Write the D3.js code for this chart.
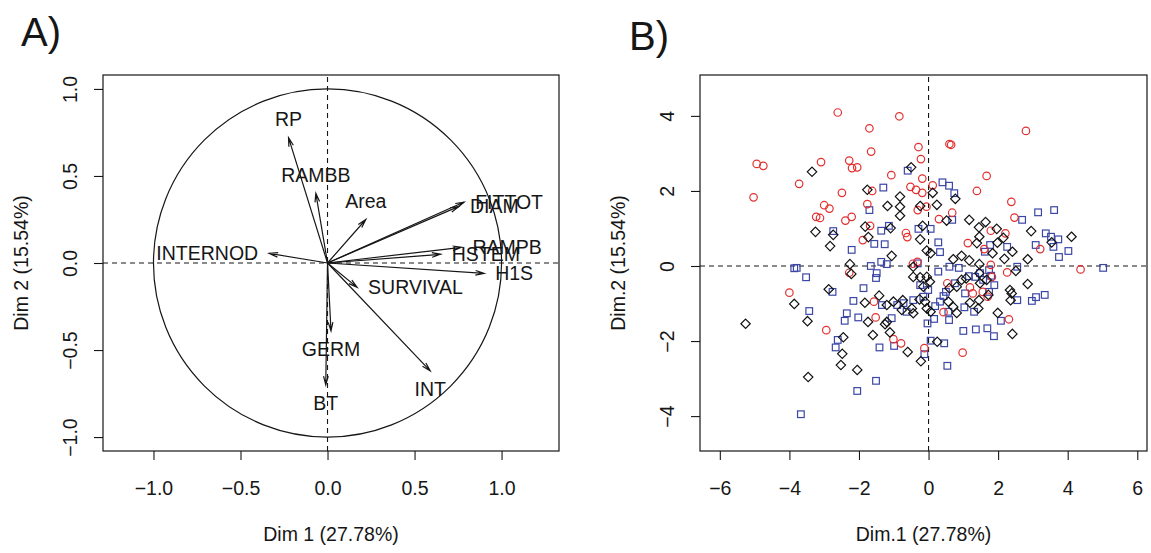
<!DOCTYPE html>
<html>
<head>
<meta charset="utf-8">
<script src="https://cdn.jsdelivr.net/npm/d3@7"></script>
<style>
  body { margin: 0; background: #fff; }
  svg text { font-family: "Liberation Sans", Arial, Helvetica, sans-serif; fill: #161616; }
</style>
</head>
<body>
<svg id="fig" width="1151" height="553"></svg>
<script>
// ---- Panel A: correlation circle (variables) ----
const varNames = ["RP", "RAMBB", "Area", "FITTOT", "DIAM", "INTERNOD", "HSTEM",
                  "RAMPB", "H1S", "SURVIVAL", "GERM", "BT", "INT"];
const varDim1 = [-0.224, -0.067, 0.22, 0.785, 0.755, -0.335, 0.65, 0.77, 0.90, 0.17, 0.02, -0.01, 0.59];
const varDim2 = [0.72, 0.40, 0.25, 0.35, 0.325, 0.055, 0.05, 0.09, -0.06, -0.14, -0.39, -0.70, -0.62];
const ticksA = [-1, -0.5, 0, 0.5, 1];

// ---- Panel B: individuals on dimensions 1 and 2, three groups ----
const groupCircle = [
  [-2.61,4.09],[-1.70,3.67],[-4.94,2.72],[-4.75,2.67],[-3.09,2.77],[-2.28,2.81],[-2.20,2.61],
  [-2.05,2.63],[-1.65,3.05],[-3.72,2.19],[-5.03,1.83],[-2.49,1.95],[-3.00,1.62],[-2.85,1.53],
  [-3.23,1.31],[-3.12,1.28],[-2.21,1.31],[-2.39,1.21],[-1.76,1.65],[-1.89,0.69],[-2.28,-0.18],
  [-0.84,3.99],[2.80,3.60],[-0.29,3.17],[-0.22,2.85],[0.60,3.25],[0.65,3.23],[-1.07,2.42],
  [-0.18,2.33],[1.67,2.40],[0.12,2.15],[-0.52,2.11],[-0.36,2.03],[-0.18,1.95],[-1.62,2.00],
  [1.39,2.00],[-0.06,1.58],[-0.31,1.49],[2.38,1.71],[2.47,1.29],[0.30,1.25],[0.68,1.42],
  [-1.68,1.07],[-0.65,0.88],[-0.61,0.77],[1.79,0.94],[2.21,0.87],[1.13,0.61],[1.60,0.45],
  [3.21,0.45],[-0.32,0.11],[-0.45,0.06],[4.37,-0.09],[2.26,-0.17],[1.79,0.03],[1.82,-0.29],
  [-4.00,-0.71],[-2.94,-1.71],[0.54,-0.46],[1.19,-0.57],[1.27,-0.73],[1.56,-0.69],[1.70,-0.82],
  [2.31,-1.42],[0.98,-2.31],[-0.12,-2.19],[0.43,-1.23],[-1.57,-0.95],[-0.79,-2.06],[-1.01,-1.95],
  [-1.52,-1.37]
];
const groupSquare = [
  [-2.74,0.93],[-2.21,0.43],[-1.70,1.49],[-3.86,-0.06],[-3.79,-0.05],[-3.52,-0.30],[-1.66,0.00],
  [-2.76,-0.69],[-1.87,-0.59],[-2.16,-0.93],[-3.43,-1.20],[-2.35,-1.26],[-2.02,-1.37],[-2.41,-1.46],
  [-2.61,-1.97],[-2.67,-2.17],[-2.05,-3.33],[-3.67,-3.95],[-0.60,2.54],[-1.30,2.09],[0.40,2.23],
  [0.59,2.14],[0.74,1.94],[-0.29,0.99],[0.06,0.99],[-1.14,1.07],[-1.36,0.94],[0.68,1.23],
  [-1.56,0.59],[-1.26,0.58],[0.28,0.63],[0.33,0.37],[2.69,1.23],[3.15,1.43],[3.61,1.49],
  [3.37,0.87],[3.52,0.78],[3.73,0.71],[3.59,0.51],[3.08,0.56],[2.26,0.51],[1.77,0.56],
  [1.62,0.38],[4.02,0.40],[3.75,0.24],[-1.36,0.11],[-1.20,0.05],[-0.31,0.07],[0.60,-0.02],
  [0.87,-0.05],[0.28,-0.15],[-1.49,-0.19],[-1.51,-0.32],[5.02,-0.05],[2.55,-0.02],[1.80,-0.26],
  [1.16,-0.27],[1.48,-0.19],[1.74,-0.11],[1.34,-0.29],[-0.24,-0.51],[-0.01,-0.64],[0.76,-0.46],
  [0.50,-0.69],[0.43,-0.80],[1.05,-0.73],[1.57,-0.37],[1.74,-0.69],[1.89,-0.51],[2.55,-0.91],
  [2.97,-0.93],[3.09,-0.83],[3.34,-0.77],[2.08,-1.46],[1.88,-1.87],[1.69,-1.66],[1.36,-1.69],
  [1.00,-1.73],[0.54,-2.66],[0.45,-2.06],[0.06,-1.99],[-0.12,-2.35],[-0.03,-1.53],[0.16,-1.41],
  [0.59,-1.44],[0.57,-1.22],[1.03,-1.10],[1.31,-1.22],[0.33,-0.95],[0.19,-1.07],[-0.15,-0.82],
  [-0.44,-0.91],[-0.63,-1.22],[-0.90,-1.04],[-1.34,-1.04],[-0.72,-0.99],[-0.99,-2.13],
  [-1.06,-1.39],[-1.41,-2.17],[-1.51,-3.06]
];
const groupDiamond = [
  [-3.35,2.51],[-1.76,2.03],[-3.25,0.91],[-2.74,0.83],[-2.83,0.53],[-1.82,1.05],[-1.73,0.77],
  [-2.26,0.05],[-2.22,-0.21],[-2.87,-0.62],[-3.86,-1.01],[-1.83,-0.98],[-3.48,-1.47],[-1.74,-1.49],
  [-5.26,-1.54],[-2.45,-1.90],[-2.48,-2.34],[-2.52,-2.64],[-2.05,-2.77],[-3.46,-2.96],[-0.50,2.63],
  [-0.82,1.85],[-1.18,1.60],[-0.82,1.58],[-0.82,1.34],[-0.24,1.60],[0.12,1.95],[0.24,1.63],
  [0.77,1.79],[0.52,1.21],[-1.09,1.01],[-0.17,1.07],[1.17,1.23],[1.64,1.17],[1.45,1.03],
  [1.96,0.99],[1.46,0.78],[-0.24,0.71],[2.95,0.93],[4.11,0.78],[3.54,0.63],[1.39,0.61],
  [1.98,0.62],[2.15,0.75],[2.41,0.38],[-1.06,0.27],[-0.05,0.41],[0.06,0.34],[0.71,0.18],
  [0.95,0.27],[1.17,0.15],[1.84,0.34],[2.18,0.19],[2.85,0.18],[1.46,0.05],[-0.44,-0.02],
  [2.51,-0.13],[-0.05,-0.29],[-0.44,-0.29],[1.46,-0.19],[-0.24,-0.30],[-0.15,-0.55],[0.04,-0.42],
  [0.81,-0.55],[0.60,-0.59],[0.95,-0.37],[1.08,-0.33],[1.48,-0.46],[1.67,-0.37],[1.72,-0.77],
  [2.85,-0.48],[2.34,-0.64],[2.39,-0.73],[2.36,-0.91],[1.99,-1.25],[2.41,-1.81],[0.25,-2.02],
  [-0.22,-2.54],[0.81,-1.25],[1.19,-0.98],[1.45,-0.91],[1.43,-1.13],[0.71,-1.09],[0.57,-0.95],
  [0.06,-1.22],[-0.05,-1.13],[-0.10,-0.95],[-0.26,-0.89],[-0.48,-1.13],[-0.44,-1.26],[-0.74,-0.91],
  [-1.01,-0.95],[-1.20,-1.04],[-1.42,-0.79],[-0.77,-1.17],[-0.60,-2.29],[-1.11,-1.77],[-1.20,-1.49],
  [-1.25,-1.55],[-1.60,-1.84]
];
const ticksBx = [-6, -4, -2, 0, 2, 4, 6];
const ticksBy = [-4, -2, 0, 2, 4];

const svg = d3.select("#fig");
const INK = "#161616";
const FS = 19.5;

// Shared frame helpers
function drawFrame(g, x, y) {
  const [x0, x1] = x.range(), [y0, y1] = y.range();
  g.append("rect").attr("x", x0).attr("y", y1).attr("width", x1 - x0).attr("height", y0 - y1)
    .attr("fill", "none").attr("stroke", INK).attr("stroke-width", 1.2);
  // reference lines through the origin
  g.append("line").attr("x1", x0).attr("x2", x1).attr("y1", y(0)).attr("y2", y(0))
    .attr("stroke", INK).attr("stroke-width", 1.1).attr("stroke-dasharray", "5,4");
  g.append("line").attr("x1", x(0)).attr("x2", x(0)).attr("y1", y0).attr("y2", y1)
    .attr("stroke", INK).attr("stroke-width", 1.1).attr("stroke-dasharray", "5,4");
}
function drawAxes(g, x, y, tx, ty, fmt, xTitle, yTitle) {
  const [x0, x1] = x.range(), [y0, y1] = y.range();
  const ax = g.append("g").attr("transform", `translate(0,${y0})`)
    .call(d3.axisBottom(x).tickValues(tx).tickFormat(fmt).tickSize(9).tickSizeOuter(0));
  ax.select(".domain").remove();
  ax.selectAll("line").attr("stroke", INK).attr("stroke-width", 1.1);
  ax.selectAll("text").attr("y", 37).attr("dy", "0.35em").attr("font-size", FS)
    .attr("font-family", null).style("fill", INK);
  const ay = g.append("g").attr("transform", `translate(${x0},0)`)
    .call(d3.axisLeft(y).tickValues(ty).tickFormat(fmt).tickSize(9).tickSizeOuter(0));
  ay.select(".domain").remove();
  ay.selectAll("line").attr("stroke", INK).attr("stroke-width", 1.1);
  ay.selectAll("text").attr("x", null).attr("dy", "0.35em").attr("text-anchor", "middle")
    .attr("transform", "translate(-33,0) rotate(-90)").attr("font-size", FS)
    .attr("font-family", null).style("fill", INK);
  g.append("text").attr("x", (x0 + x1) / 2).attr("y", 534).attr("dy", "0.35em")
    .attr("text-anchor", "middle").attr("font-size", FS).text(xTitle);
  g.append("text").attr("transform", `translate(${x0 - 82},${(y0 + y1) / 2}) rotate(-90)`)
    .attr("dy", "0.35em").attr("text-anchor", "middle").attr("font-size", FS).text(yTitle);
}

// ================= Panel A =================
const xA = d3.scaleLinear().domain([-1.29, 1.33]).range([103, 559]);
const yA = d3.scaleLinear().domain([-1.08, 1.08]).range([451, 75]);
const gA = svg.append("g");
drawFrame(gA, xA, yA);
gA.append("circle").attr("cx", xA(0)).attr("cy", yA(0)).attr("r", xA(1) - xA(0))
  .attr("fill", "none").attr("stroke", INK).attr("stroke-width", 1.2);
drawAxes(gA, xA, yA, ticksA, ticksA, d3.format(".1f"), "Dim 1 (27.78%)", "Dim 2 (15.54%)");

const vars = varNames.map((n, i) => ({ name: n, x: varDim1[i], y: varDim2[i] }));
const headLen = 9, headAng = 15 * Math.PI / 180;
vars.forEach(v => {
  const px = xA(v.x), py = yA(v.y), ox = xA(0), oy = yA(0);
  const a = Math.atan2(py - oy, px - ox);
  const h1 = [px - headLen * Math.cos(a - headAng), py - headLen * Math.sin(a - headAng)];
  const h2 = [px - headLen * Math.cos(a + headAng), py - headLen * Math.sin(a + headAng)];
  gA.append("path")
    .attr("d", `M${ox},${oy}L${px},${py}M${h1[0]},${h1[1]}L${px},${py}L${h2[0]},${h2[1]}`)
    .attr("fill", "none").attr("stroke", INK).attr("stroke-width", 1.2);
  // label side follows the dominant coordinate
  const t = gA.append("text").attr("font-size", FS).attr("dy", "0.35em").text(v.name);
  if (Math.abs(v.x) >= Math.abs(v.y)) {
    t.attr("x", px + (v.x >= 0 ? 11 : -11)).attr("y", py)
      .attr("text-anchor", v.x >= 0 ? "start" : "end");
  } else {
    t.attr("x", px).attr("y", py + (v.y >= 0 ? -18.5 : 18.5)).attr("text-anchor", "middle");
  }
});
svg.append("text").attr("x", 21).attr("y", 46).attr("font-size", 40).text("A)");

// ================= Panel B =================
const xB = d3.scaleLinear().domain([-6.57, 6.28]).range([700, 1147]);
const yB = d3.scaleLinear().domain([-4.93, 5.09]).range([451, 75]);
const gB = svg.append("g");
drawFrame(gB, xB, yB);
drawAxes(gB, xB, yB, ticksBx, ticksBy, d3.format("d"), "Dim.1 (27.78%)", "Dim.2 (15.54%)");

const R = 3.75;
gB.append("g").selectAll("rect").data(groupSquare).join("rect")
  .attr("x", d => xB(d[0]) - R * 0.886).attr("y", d => yB(d[1]) - R * 0.886)
  .attr("width", 2 * R * 0.886).attr("height", 2 * R * 0.886)
  .attr("fill", "none").attr("stroke", "#3b47a6").attr("stroke-width", 1.2);
gB.append("g").selectAll("circle").data(groupCircle).join("circle")
  .attr("cx", d => xB(d[0])).attr("cy", d => yB(d[1])).attr("r", R)
  .attr("fill", "none").attr("stroke", "#e2302f").attr("stroke-width", 1.2);
const D = R * 1.253;
gB.append("g").selectAll("path").data(groupDiamond).join("path")
  .attr("d", d => {
    const cx = xB(d[0]), cy = yB(d[1]);
    return `M${cx},${cy - D}L${cx + D},${cy}L${cx},${cy + D}L${cx - D},${cy}Z`;
  })
  .attr("fill", "none").attr("stroke", "#111").attr("stroke-width", 1.2);
svg.append("text").attr("x", 629).attr("y", 50).attr("font-size", 40).text("B)");
</script>
</body>
</html>
